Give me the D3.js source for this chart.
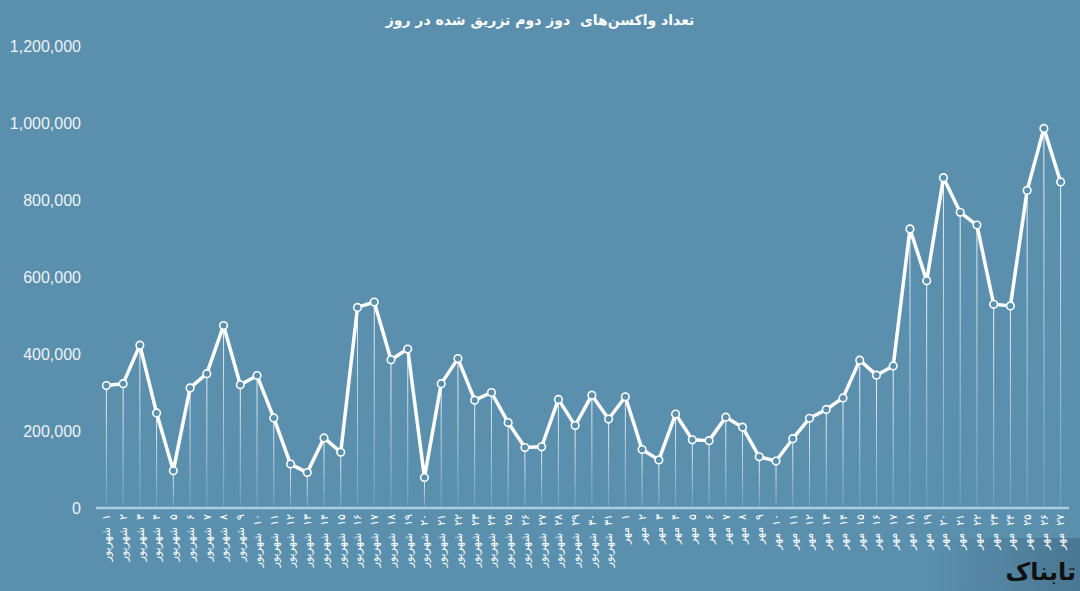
<!DOCTYPE html>
<html><head><meta charset="utf-8">
<script src="https://cdn.jsdelivr.net/npm/d3@7/dist/d3.min.js"></script>
<style>
html,body{margin:0;padding:0;background:#5a8fad;}
svg{display:block;}
</style></head>
<body>
<svg id="chart" width="1080" height="591"></svg>
<script>
const title = "تعداد واکسن‌های  دوز دوم تزریق شده در روز";
const labels = [
"۱  شهریور","۲  شهریور","۳  شهریور","۴  شهریور","۵  شهریور","۶  شهریور","۷  شهریور","۸  شهریور","۹  شهریور","۱۰  شهریور",
"۱۱  شهریور","۱۲  شهریور","۱۳  شهریور","۱۴  شهریور","۱۵  شهریور","۱۶  شهریور","۱۷  شهریور","۱۸  شهریور","۱۹  شهریور","۲۰  شهریور",
"۲۱  شهریور","۲۲  شهریور","۲۳  شهریور","۲۴  شهریور","۲۵  شهریور","۲۶  شهریور","۲۷  شهریور","۲۸  شهریور","۲۹  شهریور","۳۰  شهریور","۳۱  شهریور",
"۱  مهر","۲  مهر","۳  مهر","۴  مهر","۵  مهر","۶  مهر","۷  مهر","۸  مهر","۹  مهر","۱۰  مهر",
"۱۱  مهر","۱۲  مهر","۱۳  مهر","۱۴  مهر","۱۵  مهر","۱۶  مهر","۱۷  مهر","۱۸  مهر","۱۹  مهر","۲۰  مهر",
"۲۱  مهر","۲۲  مهر","۲۳  مهر","۲۴  مهر","۲۵  مهر","۲۶  مهر","۲۷  مهر"
];
const shahrivarValues = [318000,323000,423000,247000,97000,312000,349000,474000,320000,344000,
 234000,114000,92000,182000,145000,521000,535000,385000,413000,79000,
 323000,388000,280000,300000,222000,157000,159000,282000,214000,293000,231000];
const mehrValues = [289000,152000,125000,244000,177000,175000,236000,210000,133000,122000,
 180000,233000,256000,286000,384000,345000,369000,725000,590000,858000,
 768000,735000,529000,525000,825000,986000,847000];
const values = shahrivarValues.concat(mehrValues);
const yTicks = [0,200000,400000,600000,800000,1000000,1200000];

const bg = "#5a8fad";
const svg = d3.select("#chart");
const W = 1080, H = 591;

svg.append("rect").attr("width",W).attr("height",H).attr("fill",bg);

const defs = svg.append("defs");
const dg = defs.append("linearGradient").attr("id","drop").attr("x1",0).attr("y1",0).attr("x2",0).attr("y2",1);
dg.append("stop").attr("offset","0%").attr("stop-color","#fff").attr("stop-opacity",0.9);
dg.append("stop").attr("offset","100%").attr("stop-color","#fff").attr("stop-opacity",0.15);
const wg = defs.append("linearGradient").attr("id","wm").attr("x1",0).attr("y1",0).attr("x2",1).attr("y2",0);
wg.append("stop").attr("offset","0%").attr("stop-color","#2c4a60").attr("stop-opacity",0);
wg.append("stop").attr("offset","100%").attr("stop-color","#2c4a60").attr("stop-opacity",0.35);

const x = d3.scaleBand().domain(d3.range(values.length)).range([98,1069]).padding(0);
const y = d3.scaleLinear().domain([0,1200000]).range([508,46]);
const cx = i => x(i) + x.bandwidth()/2;

// watermark backdrop
svg.append("rect").attr("x",930).attr("y",538).attr("width",150).attr("height",53).attr("fill","url(#wm)");

// title
svg.append("text").attr("x",540).attr("y",25).attr("text-anchor","middle")
  .attr("font-family","DejaVu Sans").attr("font-weight","bold").attr("font-size",14)
  .attr("fill","#fff").attr("direction","rtl")
  .style("white-space","pre").text(title);

// y axis labels
const yAxis = d3.axisLeft(y).tickValues(yTicks).tickSize(0).tickPadding(0)
  .tickFormat(d => d3.format(",")(d));
const ya = svg.append("g").attr("transform","translate(81,0)").call(yAxis);
ya.select(".domain").remove();
ya.selectAll("text").attr("font-family","Liberation Sans, Arial").attr("font-size",16).attr("fill","#eef3f7");

// drop lines
svg.append("g").selectAll("rect").data(values).join("rect")
  .attr("x", (d,i) => cx(i) - 0.5).attr("width",1)
  .attr("y", d => y(d)).attr("height", d => y(0) - y(d))
  .attr("fill","url(#drop)");

// x axis line
svg.append("line").attr("x1",96).attr("x2",1069).attr("y1",508).attr("y2",508)
  .attr("stroke","#a9cde2").attr("stroke-width",2.5);

// x labels
const xAxis = d3.axisBottom(x).tickSize(0).tickFormat(i => labels[i]);
const xa = svg.append("g").attr("transform","translate(0,514)").call(xAxis);
xa.select(".domain").remove();
xa.selectAll("text")
  .attr("transform","rotate(-90)")
  .attr("x",0).attr("y",0).attr("dy","0.35em").attr("dx",0)
  .attr("direction","rtl")
  .attr("text-anchor","start")
  .attr("font-family","DejaVu Sans").attr("font-size",11).attr("fill","#fff")
  .style("white-space","pre");

// line
svg.append("path").datum(values)
  .attr("fill","none").attr("stroke","#fff").attr("stroke-width",3.5)
  .attr("stroke-linejoin","round").attr("stroke-linecap","round")
  .attr("d", d3.line().x((d,i) => cx(i)).y(d => y(d)));

// markers
svg.append("g").selectAll("circle").data(values).join("circle")
  .attr("cx",(d,i) => cx(i)).attr("cy", d => y(d)).attr("r",3.8)
  .attr("fill",bg).attr("stroke","#fff").attr("stroke-width",1.6);

// watermark text
svg.append("text").attr("x",1076).attr("y",580).attr("direction","rtl").attr("text-anchor","start")
  .attr("font-family","DejaVu Sans").attr("font-weight","bold")
  .attr("font-size",24).attr("fill","#111").text("تابناک");
</script>
</body></html>
